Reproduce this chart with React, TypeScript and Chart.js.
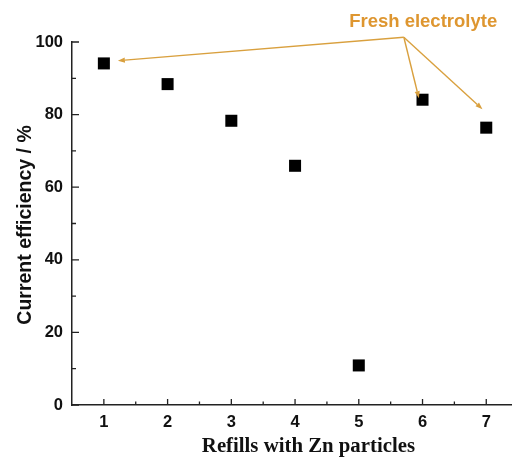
import React, { useEffect, useRef } from "react";
import { Chart, registerables } from "chart.js";

Chart.register(...registerables);

const refills = [1, 2, 3, 4, 5, 6, 7];
const efficiency = [94.1, 88.4, 78.3, 65.9, 10.9, 84.1, 76.4];
const xTicks = [1, 2, 3, 4, 5, 6, 7];
const xMinorTicks = [1.5, 2.5, 3.5, 4.5, 5.5, 6.5];
const yTicks = [0, 20, 40, 60, 80, 100];
const yMinorTicks = [10, 30, 50, 70, 90];
const annotationText = "Fresh electrolyte";
const annotationAnchor = { x: 6.01, y: 105.4 };
const arrowStart = { x: 5.707, y: 101.3 };
const arrowTargets = [
  { x: 1.22, y: 94.85 },
  { x: 5.943, y: 84.5 },
  { x: 6.94, y: 81.5 },
];
const xTitle = "Refills with Zn particles";
const yTitle = "Current efficiency / %";

const ORANGE = "#DE9630";
const ARROW = "#D9A03E";
const SANS = "'Liberation Sans', Arial, sans-serif";

const decorPlugin = {
  id: "decor",
  afterDraw(chart: any) {
    const ctx = chart.ctx;
    const xs = chart.scales.x;
    const ys = chart.scales.y;
    ctx.save();
    // ticks
    ctx.strokeStyle = "#222";
    ctx.lineWidth = 1.3;
    const axisY = ys.getPixelForValue(0);
    const axisX = xs.getPixelForValue(0.5);
    ctx.beginPath();
    xTicks.forEach((v) => {
      const p = xs.getPixelForValue(v);
      ctx.moveTo(p, axisY);
      ctx.lineTo(p, axisY - 6);
    });
    xMinorTicks.forEach((v) => {
      const p = xs.getPixelForValue(v);
      ctx.moveTo(p, axisY);
      ctx.lineTo(p, axisY - 3.5);
    });
    yTicks.forEach((v) => {
      const p = ys.getPixelForValue(v);
      ctx.moveTo(axisX, p);
      ctx.lineTo(axisX + 7, p);
    });
    yMinorTicks.forEach((v) => {
      const p = ys.getPixelForValue(v);
      ctx.moveTo(axisX, p);
      ctx.lineTo(axisX + 4, p);
    });
    ctx.stroke();

    // axis titles
    ctx.fillStyle = "#111";
    ctx.textAlign = "center";
    ctx.textBaseline = "alphabetic";
    ctx.font = "bold 20.8px 'Liberation Serif', 'Times New Roman', serif";
    ctx.fillText(xTitle, xs.getPixelForValue(4.21), 451.5);
    ctx.save();
    ctx.translate(31, ys.getPixelForValue(49.6));
    ctx.rotate(-Math.PI / 2);
    ctx.font = `bold 19.5px ${SANS}`;
    ctx.fillText(yTitle, 0, 0);
    ctx.restore();

    // annotation
    ctx.textBaseline = "middle";
    ctx.font = `bold 18.5px ${SANS}`;
    ctx.fillStyle = ORANGE;
    ctx.fillText(
      annotationText,
      xs.getPixelForValue(annotationAnchor.x),
      ys.getPixelForValue(annotationAnchor.y)
    );
    const sx = xs.getPixelForValue(arrowStart.x);
    const sy = ys.getPixelForValue(arrowStart.y);
    ctx.strokeStyle = ARROW;
    ctx.fillStyle = ARROW;
    ctx.lineWidth = 1.4;
    arrowTargets.forEach((t) => {
      const tx = xs.getPixelForValue(t.x);
      const ty = ys.getPixelForValue(t.y);
      const ang = Math.atan2(ty - sy, tx - sx);
      const hl = 7;
      const hw = 2.6;
      const bx = tx - hl * Math.cos(ang);
      const by = ty - hl * Math.sin(ang);
      ctx.beginPath();
      ctx.moveTo(sx, sy);
      ctx.lineTo(bx, by);
      ctx.stroke();
      ctx.beginPath();
      ctx.moveTo(tx, ty);
      ctx.lineTo(bx + hw * Math.sin(ang), by - hw * Math.cos(ang));
      ctx.lineTo(bx - hw * Math.sin(ang), by + hw * Math.cos(ang));
      ctx.closePath();
      ctx.fill();
    });
    ctx.restore();
  },
};

export default function App() {
  const ref = useRef<HTMLCanvasElement>(null);
  useEffect(() => {
    document.body.style.margin = "0";
    const canvas = ref.current!;
    const chart = new Chart(canvas, {
      type: "scatter",
      data: {
        datasets: [
          {
            data: refills.map((r, i) => ({ x: r, y: efficiency[i] })),
            pointStyle: "rect",
            pointRadius: 8.5,
            pointHoverRadius: 8.5,
            backgroundColor: "#000",
            borderColor: "#000",
            borderWidth: 0,
          },
        ],
      },
      options: {
        animation: false,
        responsive: false,
        maintainAspectRatio: false,
        events: [],
        layout: { autoPadding: false, padding: { top: 42, right: 0, left: 0, bottom: 0 } },
        plugins: { legend: { display: false }, tooltip: { enabled: false } },
        scales: {
          x: {
            type: "linear",
            min: 0.5,
            max: 7.404,
            afterBuildTicks: (s: any) => {
              s.ticks = xTicks.map((v) => ({ value: v }));
            },
            afterFit: (s: any) => {
              s.height = 60;
              s.paddingLeft = 0;
              s.paddingRight = 0;
            },
            grid: { display: false, drawTicks: false },
            border: { display: true, color: "#222", width: 1.5 },
            ticks: {
              color: "#111",
              padding: 8,
              maxRotation: 0,
              autoSkip: false,
              font: { family: SANS, size: 16.5, weight: "bold" },
            },
          },
          y: {
            type: "linear",
            min: 0,
            max: 100,
            afterBuildTicks: (s: any) => {
              s.ticks = yTicks.map((v) => ({ value: v }));
            },
            afterFit: (s: any) => {
              s.width = 72;
              s.paddingTop = 0;
              s.paddingBottom = 0;
            },
            grid: { display: false, drawTicks: false },
            border: { display: true, color: "#222", width: 1.5 },
            ticks: {
              color: "#111",
              padding: 9,
              font: { family: SANS, size: 16.5, weight: "bold" },
            },
          },
        },
      },
      plugins: [decorPlugin],
    } as any);
    return () => chart.destroy();
  }, []);
  return (
    <div style={{ width: 512, height: 465 }}>
      <canvas ref={ref} width={512} height={465} style={{ display: "block", width: 512, height: 465 }} />
    </div>
  );
}
